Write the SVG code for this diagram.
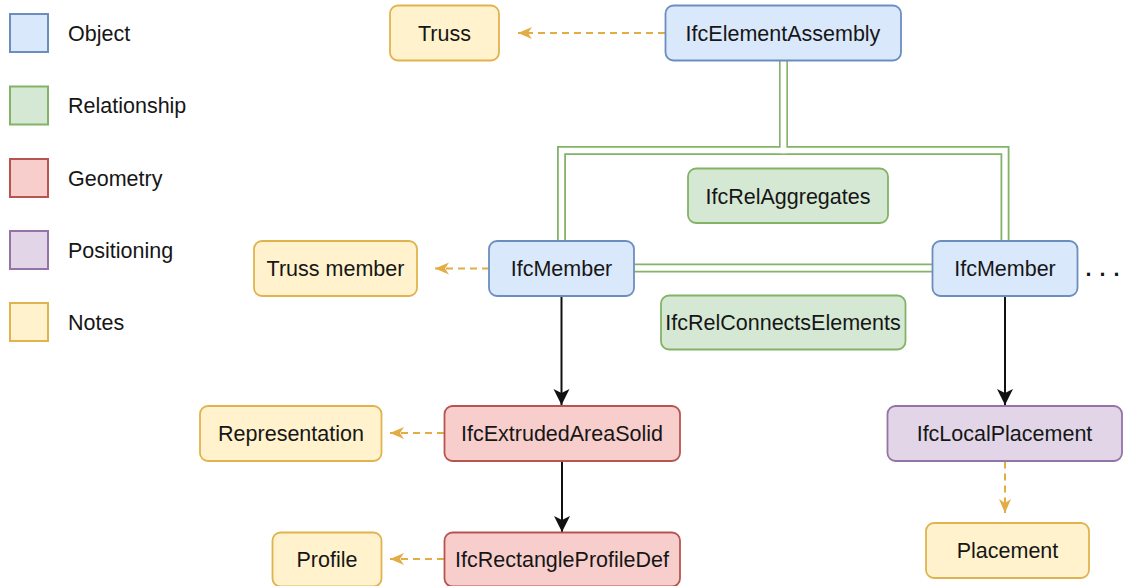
<svg xmlns="http://www.w3.org/2000/svg" width="1123" height="586" viewBox="0 0 1123 586">
  <style>
    text { font-family: "Liberation Sans", Arial, sans-serif; font-size: 21.5px; fill: #161616; }
    .lbl { text-anchor: middle; }
    .node { stroke-width: 1.8; }
    .obj { fill: #dae8fc; stroke: #6c8ebf; }
    .rel { fill: #d5e8d4; stroke: #82b366; }
    .geo { fill: #f8cecc; stroke: #b85450; }
    .pos { fill: #e1d5e7; stroke: #9673a6; }
    .note { fill: #fff2cc; stroke: #e0b34f; }
    .leg { stroke-width: 2; }
    .link-out { fill: none; stroke: #82b366; stroke-width: 9; }
    .link-in { fill: none; stroke: #ffffff; stroke-width: 5.4; }
    .dash { fill: none; stroke: #e3ad45; stroke-width: 2; stroke-dasharray: 7 5; }
    .solid { fill: none; stroke: #111111; stroke-width: 2; }
  </style>
  <defs>
    <marker id="head-note" markerUnits="userSpaceOnUse" markerWidth="16" markerHeight="14" refX="14" refY="7" orient="auto">
      <path d="M14,7 L0,1 L4,7 L0,13 Z" fill="#e3ad45"/>
    </marker>
    <marker id="head-solid" markerUnits="userSpaceOnUse" markerWidth="18" markerHeight="18" refX="16" refY="8" orient="auto">
      <path d="M16,8 L0,0 L4,8 L0,16 Z" fill="#111111"/>
    </marker>
  </defs>

  <!-- legend -->
  <g id="legend">
    <rect class="obj leg" x="10" y="14" width="38" height="38"/>
    <text x="68" y="40.5">Object</text>
    <rect class="rel leg" x="10" y="86.5" width="38" height="38"/>
    <text x="68" y="113">Relationship</text>
    <rect class="geo leg" x="10" y="159" width="38" height="38"/>
    <text x="68" y="185.5">Geometry</text>
    <rect class="pos leg" x="10" y="231" width="38" height="38"/>
    <text x="68" y="257.5">Positioning</text>
    <rect class="note leg" x="10" y="303" width="38" height="38"/>
    <text x="68" y="329.5">Notes</text>
  </g>

  <!-- connectors -->
  <g id="connectors">
    <!-- aggregation and connection links (double lines) -->
    <path class="link-out" d="M783.5,61 V150.5 H561.5 V241"/>
    <path class="link-out" d="M783.5,61 V150.5 H1005 V241"/>
    <path class="link-out" d="M634,268 H932"/>
    <path class="link-in" d="M783.5,60 V150.5 H561.5 V242"/>
    <path class="link-in" d="M783.5,60 V150.5 H1005 V242"/>
    <path class="link-in" d="M633,268 H933"/>
    <!-- note links -->
    <path class="dash" d="M665,33 H518" marker-end="url(#head-note)"/>
    <path class="dash" d="M489,268.5 H435" marker-end="url(#head-note)"/>
    <path class="dash" d="M444,433 H390" marker-end="url(#head-note)"/>
    <path class="dash" d="M444,559 H390" marker-end="url(#head-note)"/>
    <path class="dash" d="M1005,461.5 V513" marker-end="url(#head-note)"/>
    <!-- geometry / placement links -->
    <path class="solid" d="M561.5,296 V405" marker-end="url(#head-solid)"/>
    <path class="solid" d="M562,461 V532" marker-end="url(#head-solid)"/>
    <path class="solid" d="M1005,296 V405" marker-end="url(#head-solid)"/>
  </g>

  <g id="truss">
    <rect class="node note" x="390" y="5.5" width="109" height="55" rx="8"/>
    <text class="lbl" x="444.5" y="40.5">Truss</text>
  </g>
  <g id="element-assembly">
    <rect class="node obj" x="665.5" y="5.5" width="235.5" height="55" rx="8"/>
    <text class="lbl" x="783" y="40.5">IfcElementAssembly</text>
  </g>
  <g id="rel-aggregates">
    <rect class="node rel" x="688" y="168.5" width="200" height="54.5" rx="8"/>
    <text class="lbl" x="788" y="203.5">IfcRelAggregates</text>
  </g>
  <g id="truss-member">
    <rect class="node note" x="254" y="241" width="163" height="55" rx="8"/>
    <text class="lbl" x="335.5" y="276">Truss member</text>
  </g>
  <g id="member-left">
    <rect class="node obj" x="489" y="241" width="145" height="55" rx="8"/>
    <text class="lbl" x="561.5" y="276">IfcMember</text>
  </g>
  <g id="member-right">
    <rect class="node obj" x="932.5" y="241" width="145" height="55" rx="8"/>
    <text class="lbl" x="1005" y="276">IfcMember</text>
    <text x="1085.5 1099.5 1113.5" y="276" font-weight="bold">...</text>
  </g>
  <g id="rel-connects">
    <rect class="node rel" x="661" y="295.5" width="244.5" height="54" rx="8"/>
    <text class="lbl" x="783" y="330">IfcRelConnectsElements</text>
  </g>
  <g id="representation">
    <rect class="node note" x="200" y="406" width="181.5" height="55" rx="8"/>
    <text class="lbl" x="291" y="441">Representation</text>
  </g>
  <g id="extruded-area-solid">
    <rect class="node geo" x="444.5" y="406" width="235.5" height="55" rx="8"/>
    <text class="lbl" x="562" y="441">IfcExtrudedAreaSolid</text>
  </g>
  <g id="local-placement">
    <rect class="node pos" x="887.5" y="406" width="234.5" height="55" rx="8"/>
    <text class="lbl" x="1004.5" y="441">IfcLocalPlacement</text>
  </g>
  <g id="profile">
    <rect class="node note" x="272.5" y="532.5" width="109" height="54" rx="8"/>
    <text class="lbl" x="327" y="567">Profile</text>
  </g>
  <g id="rectangle-profile-def">
    <rect class="node geo" x="444.5" y="532.5" width="235.5" height="54" rx="8"/>
    <text class="lbl" x="562" y="567">IfcRectangleProfileDef</text>
  </g>
  <g id="placement">
    <rect class="node note" x="926" y="523" width="163" height="55" rx="8"/>
    <text class="lbl" x="1007.5" y="558">Placement</text>
  </g>
</svg>
